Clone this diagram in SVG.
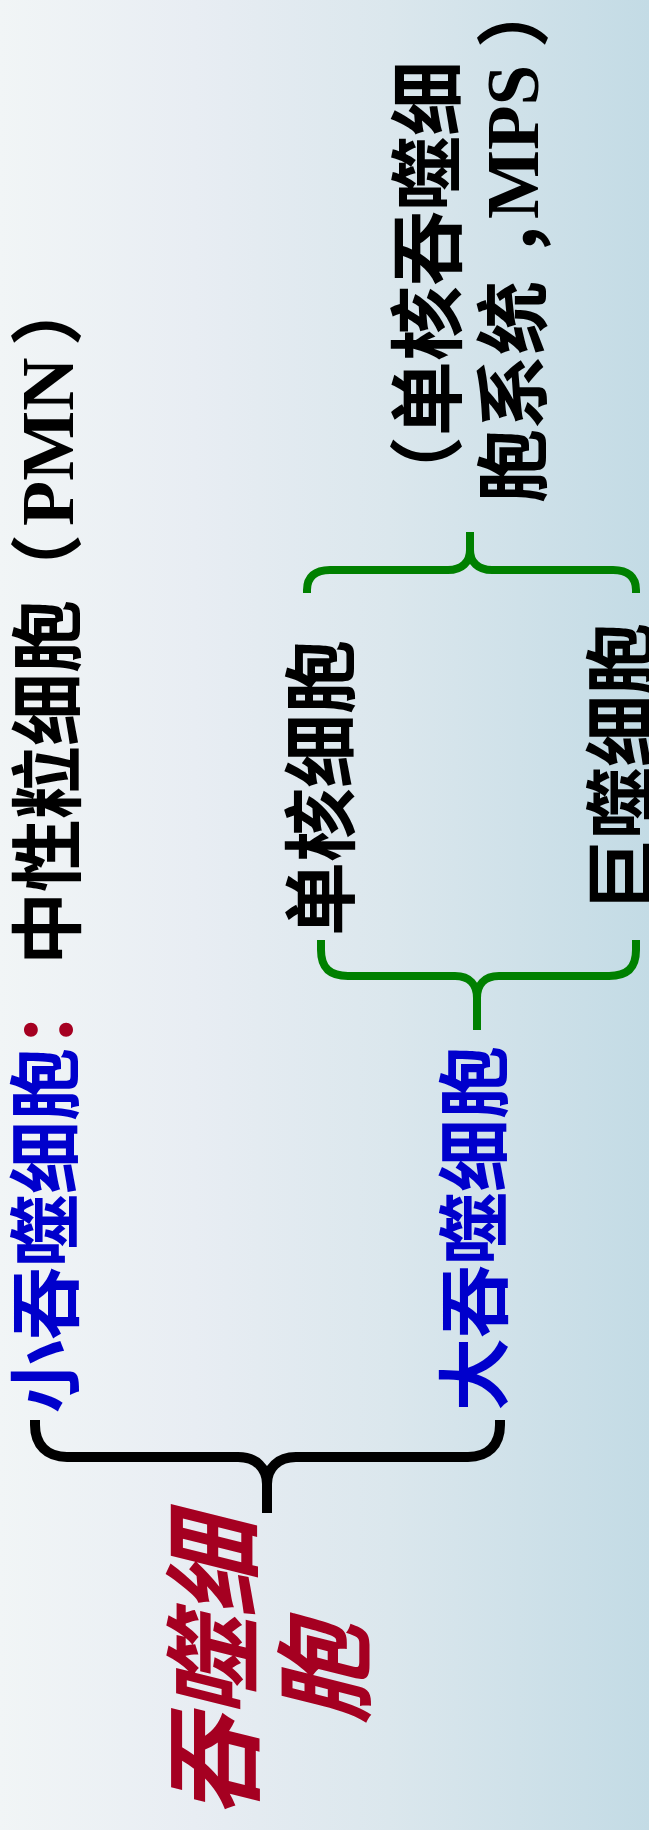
<svg xmlns="http://www.w3.org/2000/svg" width="649" height="1830" viewBox="0 0 649 1830">
  <defs>
    <linearGradient id="bg" x1="0" y1="0" x2="1" y2="0">
      <stop offset="0" stop-color="#f1f5f6"/>
      <stop offset="0.3" stop-color="#e8edf3"/>
      <stop offset="0.6" stop-color="#dbe7ed"/>
      <stop offset="1" stop-color="#c3dbe5"/>
    </linearGradient>
  </defs>
  <style>
    .cjk { font-family: "Noto Sans CJK SC", "Noto Sans CJK TC", sans-serif; font-weight: 700; }
    .lat { font-family: "Liberation Serif", "Times New Roman", serif; font-weight: 700; }
    .blk { fill: #000000; }
    .blu { fill: #0000cc; }
    .red { fill: #a50021; }
    .brace { fill: none; stroke-linecap: butt; stroke-linejoin: round; }
    .bk { stroke: #000000; stroke-width: 10; }
    .gr { stroke: #008000; stroke-width: 8; }
  </style>
  <rect x="0" y="0" width="649" height="1830" fill="url(#bg)"/>

  <g id="connectors">
    <path class="brace bk" d="M35,1420 L35,1425 C35,1445 47,1457 67,1457 L238,1457 C256,1457 267,1468 267,1484 L267,1513 M267,1484 C267,1468 278,1457 296,1457 L468,1457 C488,1457 500,1445 500,1425 L500,1420"/>
    <path class="brace gr" d="M321,940 L321,950 C321,968 330,976 348,976 L455,976 C470,976 477,985 477,998 L477,1030 M477,998 C477,985 484,976 499,976 L609,976 C627,976 636,968 636,950 L636,940"/>
    <path class="brace gr" d="M307,593 L307,590 C307,577 315,570 330,570 L448,570 C462,570 470,562 470,550 L470,532 M470,550 C470,562 478,570 492,570 L613,570 C628,570 636,577 636,590 L636,593"/>
  </g>

  <g id="title" transform="rotate(-90)">
    <text class="cjk red" font-size="100" font-style="italic"><tspan x="-1818" y="251">吞噬细</tspan><tspan x="-1724" y="362">胞</tspan></text>
  </g>

  <g id="small-phagocyte" transform="rotate(-90)">
    <text class="cjk blu" font-size="73" x="-1413" y="72">小吞噬细胞<tspan class="red">：</tspan></text>
  </g>

  <g id="pmn" transform="rotate(-90)">
    <text class="blk" y="74"><tspan class="cjk" font-size="73" x="-965">中性粒细胞</tspan><tspan class="cjk" font-size="73" x="-607">（</tspan><tspan class="lat" font-size="74" x="-526" y="73">PMN</tspan><tspan class="cjk" font-size="73" x="-346" y="74">）</tspan></text>
  </g>

  <g id="large-phagocyte" transform="rotate(-90)">
    <text class="cjk blu" font-size="73" x="-1411" y="501">大吞噬细胞</text>
  </g>

  <g id="monocyte" transform="rotate(-90)">
    <text class="cjk blk" font-size="74" x="-936" y="348">单核细胞</text>
  </g>

  <g id="macrophage" transform="rotate(-90)">
    <text class="cjk blk" font-size="72" x="-911" y="647">巨噬细胞</text>
  </g>

  <g id="mps" transform="rotate(-90)">
    <text class="blk"><tspan class="cjk" font-size="75" x="-511" y="455">（单核吞噬细</tspan><tspan class="cjk" font-size="74" x="-503" y="540">胞系统</tspan><tspan class="cjk" font-size="74" x="-259" y="540">，</tspan><tspan class="lat" font-size="73" x="-219" y="538">MPS</tspan><tspan class="cjk" font-size="74" x="-48" y="540">）</tspan></text>
  </g>
</svg>
